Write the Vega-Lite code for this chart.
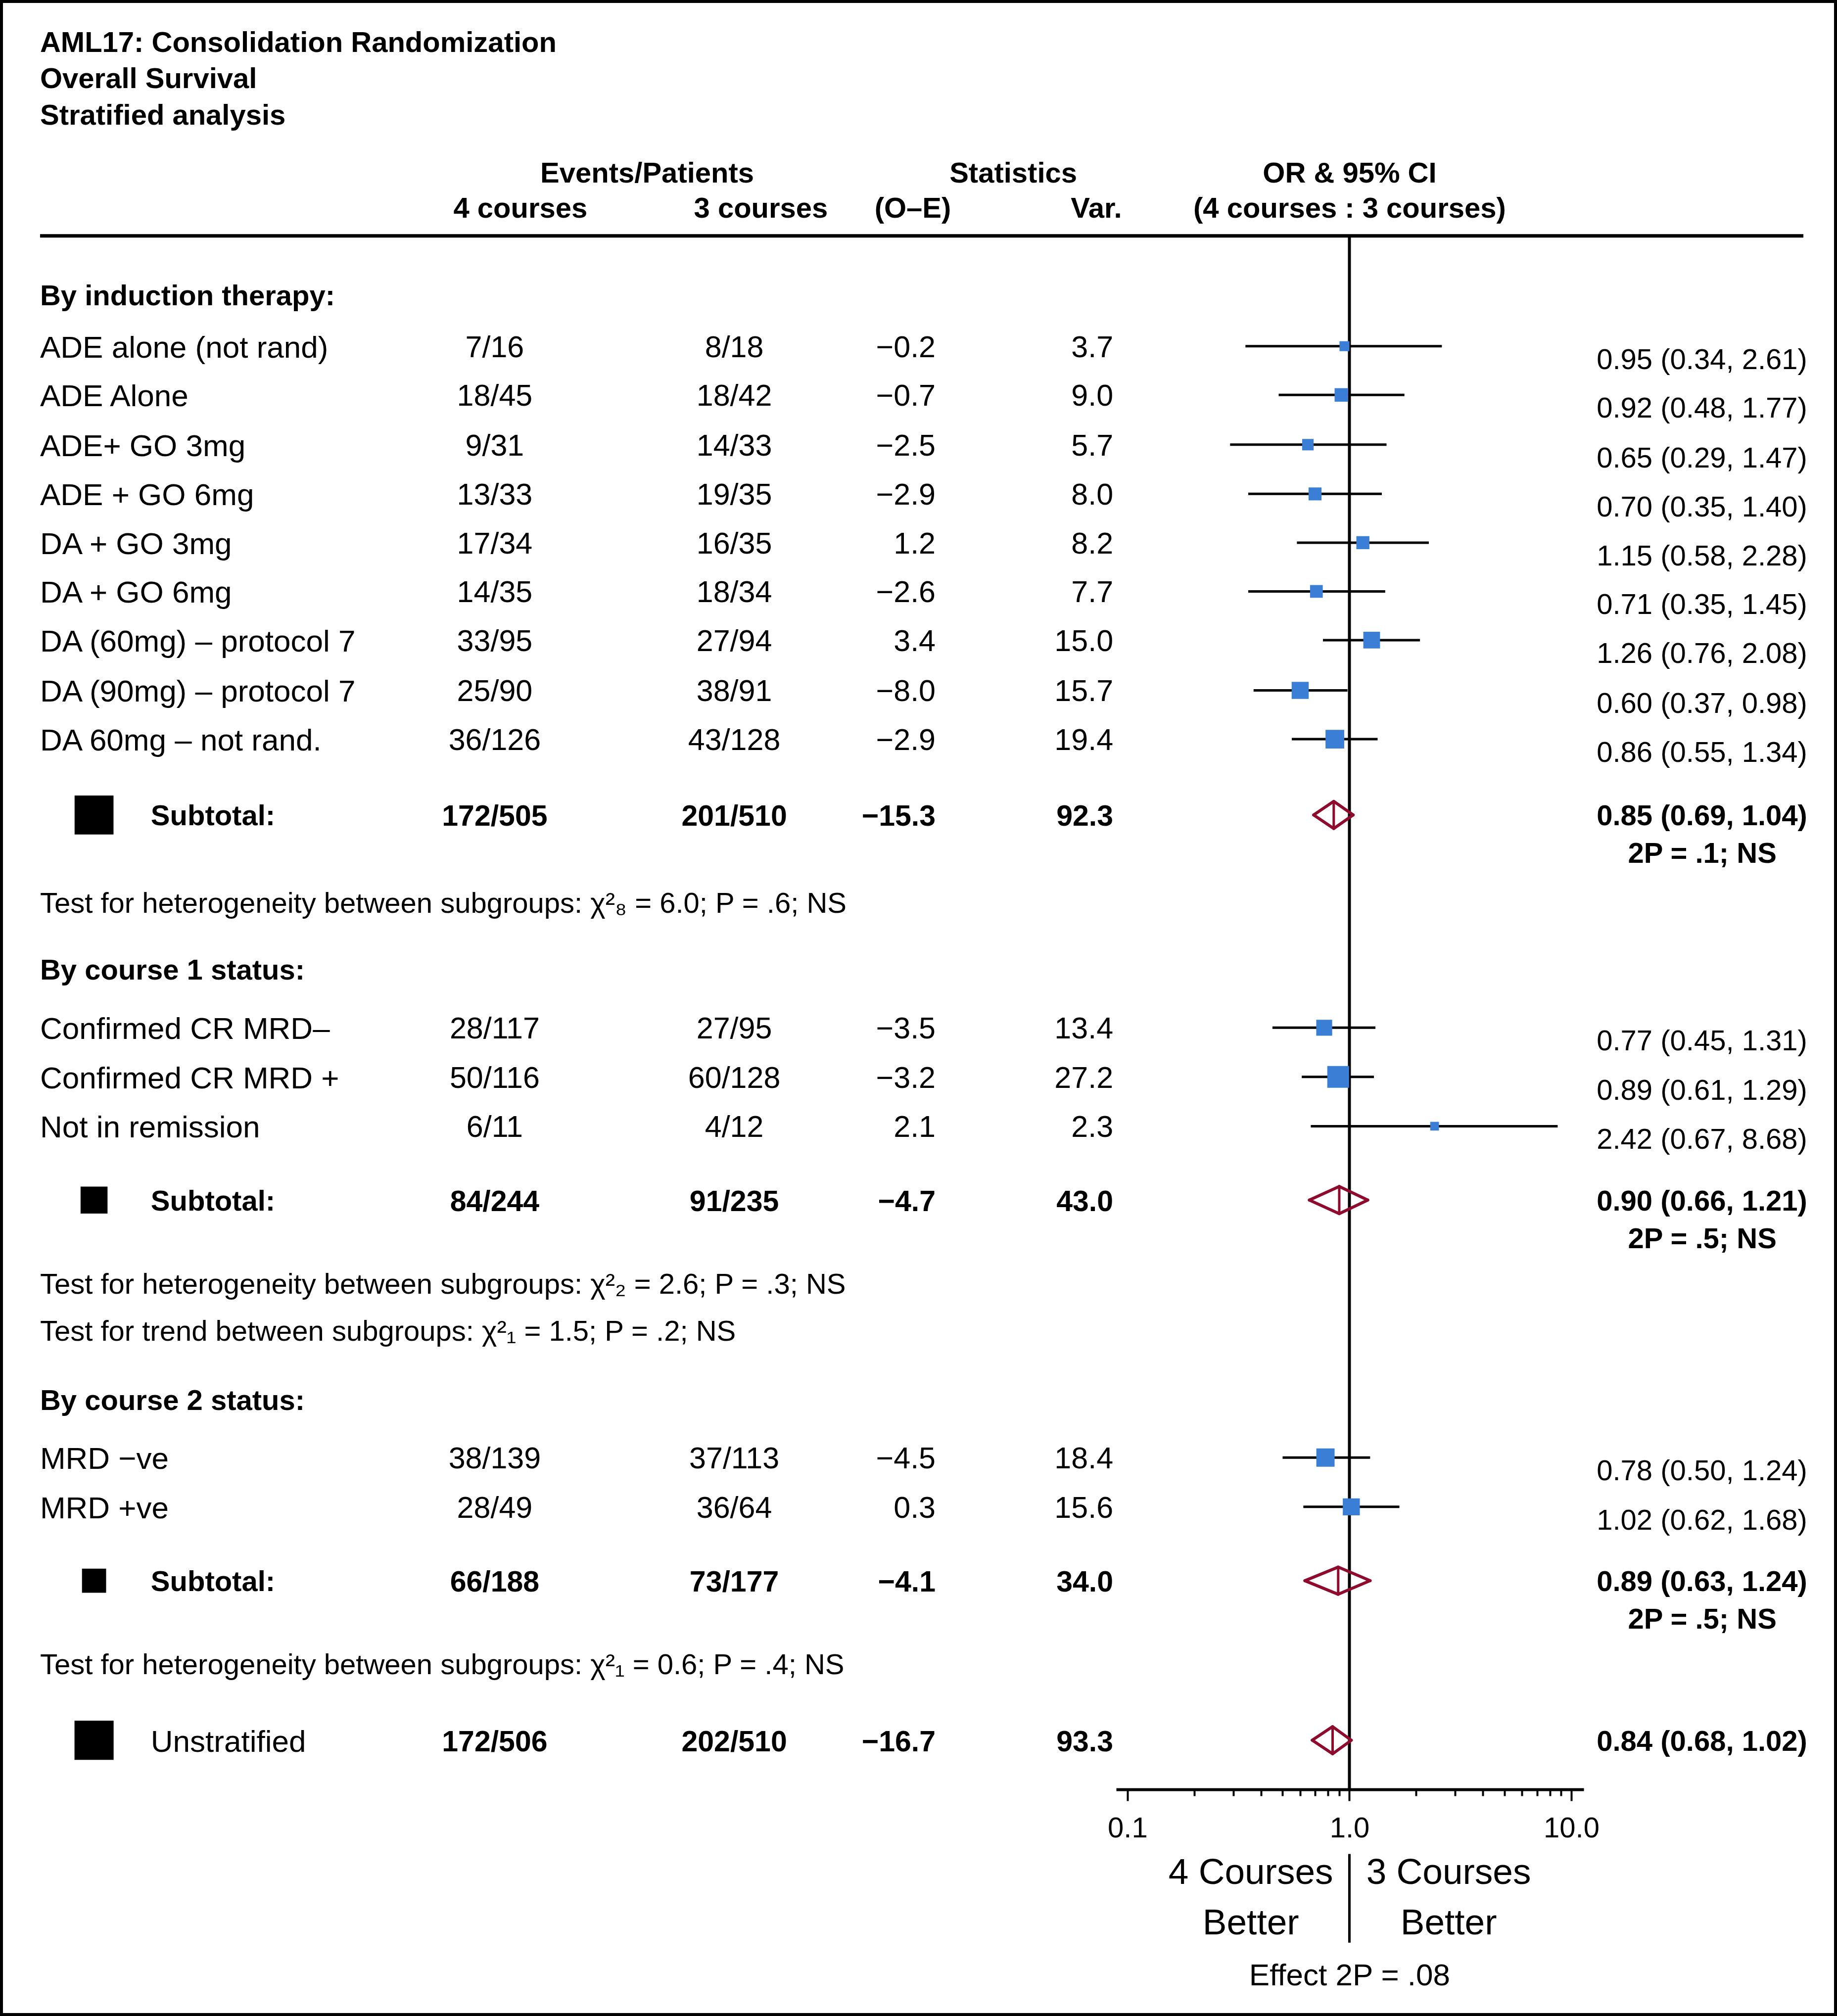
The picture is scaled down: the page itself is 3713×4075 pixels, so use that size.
{
  "$schema": "https://vega.github.io/schema/vega-lite/v6.json",
  "width": 3713,
  "height": 4075,
  "autosize": {"type": "none"},
  "padding": 0,
  "background": "white",
  "config": {
    "view": {"stroke": "black", "strokeWidth": 12},
    "font": "Liberation Sans",
    "text": {"font": "Liberation Sans", "baseline": "middle", "color": "black", "dy": 4}
  },
  "datasets": {
    "rows": [
      {"label": "ADE alone (not rand)", "kind": "study", "row": 7.03, "ev4": "7/16", "ev3": "8/18", "oe": -0.2, "var": 3.7, "or": 0.95, "lo": 0.34, "hi": 2.61, "ci": "0.95 (0.34, 2.61)"},
      {"label": "ADE Alone", "kind": "study", "row": 8.02, "ev4": "18/45", "ev3": "18/42", "oe": -0.7, "var": 9.0, "or": 0.92, "lo": 0.48, "hi": 1.77, "ci": "0.92 (0.48, 1.77)"},
      {"label": "ADE+ GO 3mg", "kind": "study", "row": 9.03, "ev4": "9/31", "ev3": "14/33", "oe": -2.5, "var": 5.7, "or": 0.65, "lo": 0.29, "hi": 1.47, "ci": "0.65 (0.29, 1.47)"},
      {"label": "ADE + GO 6mg", "kind": "study", "row": 10.03, "ev4": "13/33", "ev3": "19/35", "oe": -2.9, "var": 8.0, "or": 0.70, "lo": 0.35, "hi": 1.40, "ci": "0.70 (0.35, 1.40)"},
      {"label": "DA + GO 3mg", "kind": "study", "row": 11.02, "ev4": "17/34", "ev3": "16/35", "oe": 1.2, "var": 8.2, "or": 1.15, "lo": 0.58, "hi": 2.28, "ci": "1.15 (0.58, 2.28)"},
      {"label": "DA + GO 6mg", "kind": "study", "row": 12.01, "ev4": "14/35", "ev3": "18/34", "oe": -2.6, "var": 7.7, "or": 0.71, "lo": 0.35, "hi": 1.45, "ci": "0.71 (0.35, 1.45)"},
      {"label": "DA (60mg) – protocol 7", "kind": "study", "row": 13.0, "ev4": "33/95", "ev3": "27/94", "oe": 3.4, "var": 15.0, "or": 1.26, "lo": 0.76, "hi": 2.08, "ci": "1.26 (0.76, 2.08)"},
      {"label": "DA (90mg) – protocol 7", "kind": "study", "row": 14.02, "ev4": "25/90", "ev3": "38/91", "oe": -8.0, "var": 15.7, "or": 0.60, "lo": 0.37, "hi": 0.98, "ci": "0.60 (0.37, 0.98)"},
      {"label": "DA 60mg – not rand.", "kind": "study", "row": 15.01, "ev4": "36/126", "ev3": "43/128", "oe": -2.9, "var": 19.4, "or": 0.86, "lo": 0.55, "hi": 1.34, "ci": "0.86 (0.55, 1.34)"},
      {"label": "Subtotal:", "kind": "subtotal", "row": 16.55, "ev4": "172/505", "ev3": "201/510", "oe": -15.3, "var": 92.3, "or": 0.85, "lo": 0.69, "hi": 1.04, "ci": "0.85 (0.69, 1.04)", "p": "2P = .1; NS"},
      {"label": "Confirmed CR MRD–", "kind": "study", "row": 20.87, "ev4": "28/117", "ev3": "27/95", "oe": -3.5, "var": 13.4, "or": 0.77, "lo": 0.45, "hi": 1.31, "ci": "0.77 (0.45, 1.31)"},
      {"label": "Confirmed CR MRD +", "kind": "study", "row": 21.87, "ev4": "50/116", "ev3": "60/128", "oe": -3.2, "var": 27.2, "or": 0.89, "lo": 0.61, "hi": 1.29, "ci": "0.89 (0.61, 1.29)"},
      {"label": "Not in remission", "kind": "study", "row": 22.87, "ev4": "6/11", "ev3": "4/12", "oe": 2.1, "var": 2.3, "or": 2.42, "lo": 0.67, "hi": 8.68, "ci": "2.42 (0.67, 8.68)"},
      {"label": "Subtotal:", "kind": "subtotal", "row": 24.37, "ev4": "84/244", "ev3": "91/235", "oe": -4.7, "var": 43.0, "or": 0.90, "lo": 0.66, "hi": 1.21, "ci": "0.90 (0.66, 1.21)", "p": "2P = .5; NS"},
      {"label": "MRD −ve", "kind": "study", "row": 29.60, "ev4": "38/139", "ev3": "37/113", "oe": -4.5, "var": 18.4, "or": 0.78, "lo": 0.50, "hi": 1.24, "ci": "0.78 (0.50, 1.24)"},
      {"label": "MRD +ve", "kind": "study", "row": 30.60, "ev4": "28/49", "ev3": "36/64", "oe": 0.3, "var": 15.6, "or": 1.02, "lo": 0.62, "hi": 1.68, "ci": "1.02 (0.62, 1.68)"},
      {"label": "Subtotal:", "kind": "subtotal", "row": 32.10, "ev4": "66/188", "ev3": "73/177", "oe": -4.1, "var": 34.0, "or": 0.89, "lo": 0.63, "hi": 1.24, "ci": "0.89 (0.63, 1.24)", "p": "2P = .5; NS"},
      {"label": "Unstratified", "kind": "total", "row": 35.34, "ev4": "172/506", "ev3": "202/510", "oe": -16.7, "var": 93.3, "or": 0.84, "lo": 0.68, "hi": 1.02, "ci": "0.84 (0.68, 1.02)"}
    ],
    "sections": [
      {"text": "By induction therapy:", "kind": "heading", "row": 5.99},
      {"text": "Test for heterogeneity between subgroups: χ²₈ = 6.0; P = .6; NS", "kind": "test", "row": 18.33},
      {"text": "By course 1 status:", "kind": "heading", "row": 19.68},
      {"text": "Test for heterogeneity between subgroups: χ²₂ = 2.6; P = .3; NS", "kind": "test", "row": 26.06},
      {"text": "Test for trend between subgroups: χ²₁ = 1.5; P = .2; NS", "kind": "test", "row": 27.02},
      {"text": "By course 2 status:", "kind": "heading", "row": 28.42},
      {"text": "Test for heterogeneity between subgroups: χ²₁ = 0.6; P = .4; NS", "kind": "test", "row": 33.79}
    ]
  },
  "resolve": {"scale": {"x": "independent"}, "axis": {"x": "independent"}},
  "layer": [
    {
      "layer": [
        {
          "data": {"values": [{"t": ["AML17: Consolidation Randomization", "Overall Survival", "Stratified analysis"]}]},
          "mark": {"type": "text", "align": "left", "fontWeight": "bold", "fontSize": 58, "lineHeight": 73.5},
          "encoding": {
            "x": {"datum": 2.18, "type": "quantitative", "scale": {"domain": [0, 100], "nice": false, "zero": false}, "axis": null},
            "y": {"datum": 0.839, "type": "quantitative", "scale": {"domain": [0, 40.94], "reverse": true, "nice": false, "zero": false}, "axis": null},
            "text": {"field": "t", "type": "nominal"}
          }
        },
        {
          "data": {"values": [{"t": "Events/Patients"}]},
          "mark": {"type": "text", "align": "center", "fontWeight": "bold", "fontSize": 58},
          "encoding": {
            "x": {"datum": 35.23, "type": "quantitative", "axis": null},
            "y": {"datum": 3.5, "type": "quantitative", "axis": null},
            "text": {"field": "t", "type": "nominal"}
          }
        },
        {
          "data": {"values": [{"t": "Statistics"}]},
          "mark": {"type": "text", "align": "center", "fontWeight": "bold", "fontSize": 58},
          "encoding": {
            "x": {"datum": 55.16, "type": "quantitative", "axis": null},
            "y": {"datum": 3.5, "type": "quantitative", "axis": null},
            "text": {"field": "t", "type": "nominal"}
          }
        },
        {
          "data": {"values": [{"t": "OR & 95% CI"}]},
          "mark": {"type": "text", "align": "center", "fontWeight": "bold", "fontSize": 58},
          "encoding": {
            "x": {"datum": 73.47, "type": "quantitative", "axis": null},
            "y": {"datum": 3.5, "type": "quantitative", "axis": null},
            "text": {"field": "t", "type": "nominal"}
          }
        },
        {
          "data": {"values": [{"t": "4 courses"}]},
          "mark": {"type": "text", "align": "center", "fontWeight": "bold", "fontSize": 58},
          "encoding": {
            "x": {"datum": 28.33, "type": "quantitative", "axis": null},
            "y": {"datum": 4.21, "type": "quantitative", "axis": null},
            "text": {"field": "t", "type": "nominal"}
          }
        },
        {
          "data": {"values": [{"t": "3 courses"}]},
          "mark": {"type": "text", "align": "center", "fontWeight": "bold", "fontSize": 58},
          "encoding": {
            "x": {"datum": 41.42, "type": "quantitative", "axis": null},
            "y": {"datum": 4.21, "type": "quantitative", "axis": null},
            "text": {"field": "t", "type": "nominal"}
          }
        },
        {
          "data": {"values": [{"t": "(O–E)"}]},
          "mark": {"type": "text", "align": "center", "fontWeight": "bold", "fontSize": 58},
          "encoding": {
            "x": {"datum": 49.69, "type": "quantitative", "axis": null},
            "y": {"datum": 4.21, "type": "quantitative", "axis": null},
            "text": {"field": "t", "type": "nominal"}
          }
        },
        {
          "data": {"values": [{"t": "Var."}]},
          "mark": {"type": "text", "align": "center", "fontWeight": "bold", "fontSize": 58},
          "encoding": {
            "x": {"datum": 59.68, "type": "quantitative", "axis": null},
            "y": {"datum": 4.21, "type": "quantitative", "axis": null},
            "text": {"field": "t", "type": "nominal"}
          }
        },
        {
          "data": {"values": [{"t": "(4 courses : 3 courses)"}]},
          "mark": {"type": "text", "align": "center", "fontWeight": "bold", "fontSize": 58},
          "encoding": {
            "x": {"datum": 73.47, "type": "quantitative", "axis": null},
            "y": {"datum": 4.21, "type": "quantitative", "axis": null},
            "text": {"field": "t", "type": "nominal"}
          }
        },
        {
          "data": {"values": [{"t": "rule"}]},
          "mark": {"type": "rule", "strokeWidth": 7, "color": "black"},
          "encoding": {
            "x": {"datum": 2.18, "type": "quantitative", "axis": null},
            "x2": {"datum": 98.17},
            "y": {"datum": 4.79, "type": "quantitative", "axis": null}
          }
        },
        {
          "data": {"name": "sections"},
          "transform": [{"filter": "datum.kind == 'heading'"}],
          "mark": {"type": "text", "align": "left", "fontWeight": "bold", "fontSize": 58},
          "encoding": {
            "x": {"datum": 2.18, "type": "quantitative", "axis": null},
            "y": {"field": "row", "type": "quantitative", "axis": null},
            "text": {"field": "text", "type": "nominal"}
          }
        },
        {
          "data": {"name": "sections"},
          "transform": [{"filter": "datum.kind == 'test'"}],
          "mark": {"type": "text", "align": "left", "fontSize": 58},
          "encoding": {
            "x": {"datum": 2.18, "type": "quantitative", "axis": null},
            "y": {"field": "row", "type": "quantitative", "axis": null},
            "text": {"field": "text", "type": "nominal"}
          }
        },
        {
          "data": {"name": "rows"},
          "transform": [{"filter": "datum.kind == 'study'"}],
          "mark": {"type": "text", "align": "left", "fontSize": 62},
          "encoding": {
            "x": {"datum": 2.18, "type": "quantitative", "axis": null},
            "y": {"field": "row", "type": "quantitative", "axis": null},
            "text": {"field": "label", "type": "nominal"}
          }
        },
        {
          "data": {"name": "rows"},
          "transform": [{"filter": "datum.kind == 'subtotal'"}],
          "mark": {"type": "text", "align": "left", "fontWeight": "bold", "fontSize": 58},
          "encoding": {
            "x": {"datum": 8.21, "type": "quantitative", "axis": null},
            "y": {"field": "row", "type": "quantitative", "axis": null},
            "text": {"field": "label", "type": "nominal"}
          }
        },
        {
          "data": {"name": "rows"},
          "transform": [{"filter": "datum.kind == 'total'"}],
          "mark": {"type": "text", "align": "left", "fontSize": 62},
          "encoding": {
            "x": {"datum": 8.21, "type": "quantitative", "axis": null},
            "y": {"field": "row", "type": "quantitative", "axis": null},
            "text": {"field": "label", "type": "nominal"}
          }
        },
        {
          "data": {"name": "rows"},
          "transform": [{"filter": "datum.kind != 'study'"}],
          "mark": {"type": "point", "shape": "square", "filled": true, "color": "black", "opacity": 1, "strokeWidth": 0},
          "encoding": {
            "x": {"datum": 5.12, "type": "quantitative", "axis": null},
            "y": {"field": "row", "type": "quantitative", "axis": null},
            "size": {"field": "var", "type": "quantitative", "scale": {"type": "linear", "domain": [0, 100], "range": [160, 6690], "zero": false}, "legend": null}
          }
        },
        {
          "data": {"name": "rows"},
          "transform": [{"filter": "datum.kind == 'study'"}],
          "mark": {"type": "text", "align": "center", "fontSize": 61},
          "encoding": {
            "x": {"datum": 26.93, "type": "quantitative", "axis": null},
            "y": {"field": "row", "type": "quantitative", "axis": null},
            "text": {"field": "ev4", "type": "nominal"}
          }
        },
        {
          "data": {"name": "rows"},
          "transform": [{"filter": "datum.kind == 'study'"}],
          "mark": {"type": "text", "align": "center", "fontSize": 61},
          "encoding": {
            "x": {"datum": 39.97, "type": "quantitative", "axis": null},
            "y": {"field": "row", "type": "quantitative", "axis": null},
            "text": {"field": "ev3", "type": "nominal"}
          }
        },
        {
          "data": {"name": "rows"},
          "transform": [{"filter": "datum.kind == 'study'"}],
          "mark": {"type": "text", "align": "right", "fontSize": 61},
          "encoding": {
            "x": {"datum": 50.93, "type": "quantitative", "axis": null},
            "y": {"field": "row", "type": "quantitative", "axis": null},
            "text": {"field": "oe", "type": "quantitative", "format": ".1f"}
          }
        },
        {
          "data": {"name": "rows"},
          "transform": [{"filter": "datum.kind == 'study'"}],
          "mark": {"type": "text", "align": "right", "fontSize": 61},
          "encoding": {
            "x": {"datum": 60.6, "type": "quantitative", "axis": null},
            "y": {"field": "row", "type": "quantitative", "axis": null},
            "text": {"field": "var", "type": "quantitative", "format": ".1f"}
          }
        },
        {
          "data": {"name": "rows"},
          "transform": [{"filter": "datum.kind != 'study'"}],
          "mark": {"type": "text", "align": "center", "fontWeight": "bold", "fontSize": 59},
          "encoding": {
            "x": {"datum": 26.93, "type": "quantitative", "axis": null},
            "y": {"field": "row", "type": "quantitative", "axis": null},
            "text": {"field": "ev4", "type": "nominal"}
          }
        },
        {
          "data": {"name": "rows"},
          "transform": [{"filter": "datum.kind != 'study'"}],
          "mark": {"type": "text", "align": "center", "fontWeight": "bold", "fontSize": 59},
          "encoding": {
            "x": {"datum": 39.97, "type": "quantitative", "axis": null},
            "y": {"field": "row", "type": "quantitative", "axis": null},
            "text": {"field": "ev3", "type": "nominal"}
          }
        },
        {
          "data": {"name": "rows"},
          "transform": [{"filter": "datum.kind != 'study'"}],
          "mark": {"type": "text", "align": "right", "fontWeight": "bold", "fontSize": 59},
          "encoding": {
            "x": {"datum": 50.93, "type": "quantitative", "axis": null},
            "y": {"field": "row", "type": "quantitative", "axis": null},
            "text": {"field": "oe", "type": "quantitative", "format": ".1f"}
          }
        },
        {
          "data": {"name": "rows"},
          "transform": [{"filter": "datum.kind != 'study'"}],
          "mark": {"type": "text", "align": "right", "fontWeight": "bold", "fontSize": 59},
          "encoding": {
            "x": {"datum": 60.6, "type": "quantitative", "axis": null},
            "y": {"field": "row", "type": "quantitative", "axis": null},
            "text": {"field": "var", "type": "quantitative", "format": ".1f"}
          }
        },
        {
          "data": {"name": "rows"},
          "transform": [{"filter": "datum.kind == 'study'"}],
          "mark": {"type": "text", "align": "right", "fontSize": 58, "dy": 29},
          "encoding": {
            "x": {"datum": 98.38, "type": "quantitative", "axis": null},
            "y": {"field": "row", "type": "quantitative", "axis": null},
            "text": {"field": "ci", "type": "nominal"}
          }
        },
        {
          "data": {"name": "rows"},
          "transform": [{"filter": "datum.kind != 'study'"}],
          "mark": {"type": "text", "align": "right", "fontWeight": "bold", "fontSize": 58},
          "encoding": {
            "x": {"datum": 98.38, "type": "quantitative", "axis": null},
            "y": {"field": "row", "type": "quantitative", "axis": null},
            "text": {"field": "ci", "type": "nominal"}
          }
        },
        {
          "data": {"name": "rows"},
          "transform": [{"filter": "datum.kind == 'subtotal'"}],
          "mark": {"type": "text", "align": "right", "fontWeight": "bold", "fontSize": 58, "dy": 80},
          "encoding": {
            "x": {"datum": 96.71, "type": "quantitative", "axis": null},
            "y": {"field": "row", "type": "quantitative", "axis": null},
            "text": {"field": "p", "type": "nominal"}
          }
        },
        {
          "data": {"values": [{"t": ["4 Courses", "Better"]}]},
          "mark": {"type": "text", "align": "center", "fontSize": 73, "lineHeight": 102},
          "encoding": {
            "x": {"datum": 68.09, "type": "quantitative", "axis": null},
            "y": {"datum": 38.0, "type": "quantitative", "axis": null},
            "text": {"field": "t", "type": "nominal"}
          }
        },
        {
          "data": {"values": [{"t": ["3 Courses", "Better"]}]},
          "mark": {"type": "text", "align": "center", "fontSize": 73, "lineHeight": 102},
          "encoding": {
            "x": {"datum": 78.86, "type": "quantitative", "axis": null},
            "y": {"datum": 38.0, "type": "quantitative", "axis": null},
            "text": {"field": "t", "type": "nominal"}
          }
        },
        {
          "data": {"values": [{"t": "Effect 2P = .08"}]},
          "mark": {"type": "text", "align": "center", "fontSize": 62},
          "encoding": {
            "x": {"datum": 73.47, "type": "quantitative", "axis": null},
            "y": {"datum": 40.09, "type": "quantitative", "axis": null},
            "text": {"field": "t", "type": "nominal"}
          }
        }
      ]
    },
    {
      "layer": [
        {
          "data": {"values": [{"t": "ref"}]},
          "mark": {"type": "rule", "strokeWidth": 6, "color": "black"},
          "encoding": {
            "x": {
              "datum": 1,
              "type": "quantitative",
              "scale": {"type": "log", "domain": [0.0889, 11.37], "range": [2256, 3201], "nice": false},
              "title": null,
              "axis": {
                "orient": "bottom",
                "offset": -458,
                "title": null,
                "values": [0.1, 0.2, 0.3, 0.4, 0.5, 0.6, 0.7, 0.8, 0.9, 1, 2, 3, 4, 5, 6, 7, 8, 9, 10],
                "labelExpr": "datum.value == 0.1 ? '0.1' : datum.value == 1 ? '1.0' : datum.value == 10 ? '10.0' : ''",
                "tickSize": {"condition": {"test": "datum.value == 0.1 || datum.value == 1 || datum.value == 10", "value": 23}, "value": 13},
                "tickWidth": 4,
                "tickColor": "black",
                "domainColor": "black",
                "domainWidth": 6,
                "labelFont": "Liberation Sans",
                "labelFontSize": 58,
                "labelColor": "black",
                "labelPadding": 27,
                "labelFlush": false,
                "labelOverlap": false,
                "grid": false
              }
            },
            "y": {"datum": 4.79, "type": "quantitative", "axis": null},
            "y2": {"datum": 36.34}
          }
        },
        {
          "data": {"values": [{"t": "divider"}]},
          "mark": {"type": "rule", "strokeWidth": 5, "color": "black"},
          "encoding": {
            "x": {"datum": 1, "type": "quantitative", "title": null},
            "y": {"datum": 37.65, "type": "quantitative", "axis": null},
            "y2": {"datum": 39.45}
          }
        },
        {
          "data": {"name": "rows"},
          "transform": [{"filter": "datum.kind == 'study'"}],
          "mark": {"type": "rule", "strokeWidth": 5, "color": "black"},
          "encoding": {
            "x": {"field": "lo", "type": "quantitative", "title": null},
            "x2": {"field": "hi"},
            "y": {"field": "row", "type": "quantitative", "axis": null}
          }
        },
        {
          "data": {"name": "rows"},
          "transform": [{"filter": "datum.kind == 'study'"}],
          "mark": {"type": "point", "shape": "square", "filled": true, "color": "#3A7FD5", "opacity": 1, "strokeWidth": 0},
          "encoding": {
            "x": {"field": "or", "type": "quantitative", "title": null},
            "y": {"field": "row", "type": "quantitative", "axis": null},
            "size": {"field": "var", "type": "quantitative", "scale": {"type": "linear", "domain": [0, 100], "range": [160, 6690], "zero": false}, "legend": null}
          }
        },
        {
          "data": {"name": "rows"},
          "transform": [{"filter": "datum.kind != 'study'"}],
          "mark": {"type": "rule", "strokeWidth": 6, "color": "#8E0B2E", "strokeCap": "round", "y2Offset": -27.5},
          "encoding": {
            "x": {"field": "lo", "type": "quantitative", "title": null},
            "x2": {"field": "or"},
            "y": {"field": "row", "type": "quantitative", "axis": null},
            "y2": {"field": "row"}
          }
        },
        {
          "data": {"name": "rows"},
          "transform": [{"filter": "datum.kind != 'study'"}],
          "mark": {"type": "rule", "strokeWidth": 6, "color": "#8E0B2E", "strokeCap": "round", "yOffset": -27.5},
          "encoding": {
            "x": {"field": "or", "type": "quantitative", "title": null},
            "x2": {"field": "hi"},
            "y": {"field": "row", "type": "quantitative", "axis": null},
            "y2": {"field": "row"}
          }
        },
        {
          "data": {"name": "rows"},
          "transform": [{"filter": "datum.kind != 'study'"}],
          "mark": {"type": "rule", "strokeWidth": 6, "color": "#8E0B2E", "strokeCap": "round", "y2Offset": 27.5},
          "encoding": {
            "x": {"field": "lo", "type": "quantitative", "title": null},
            "x2": {"field": "or"},
            "y": {"field": "row", "type": "quantitative", "axis": null},
            "y2": {"field": "row"}
          }
        },
        {
          "data": {"name": "rows"},
          "transform": [{"filter": "datum.kind != 'study'"}],
          "mark": {"type": "rule", "strokeWidth": 6, "color": "#8E0B2E", "strokeCap": "round", "yOffset": 27.5},
          "encoding": {
            "x": {"field": "or", "type": "quantitative", "title": null},
            "x2": {"field": "hi"},
            "y": {"field": "row", "type": "quantitative", "axis": null},
            "y2": {"field": "row"}
          }
        },
        {
          "data": {"name": "rows"},
          "transform": [{"filter": "datum.kind != 'study'"}],
          "mark": {"type": "rule", "strokeWidth": 5, "color": "#8E0B2E", "yOffset": -27.5, "y2Offset": 27.5},
          "encoding": {
            "x": {"field": "or", "type": "quantitative", "title": null},
            "y": {"field": "row", "type": "quantitative", "axis": null},
            "y2": {"field": "row"}
          }
        }
      ]
    }
  ]
}
